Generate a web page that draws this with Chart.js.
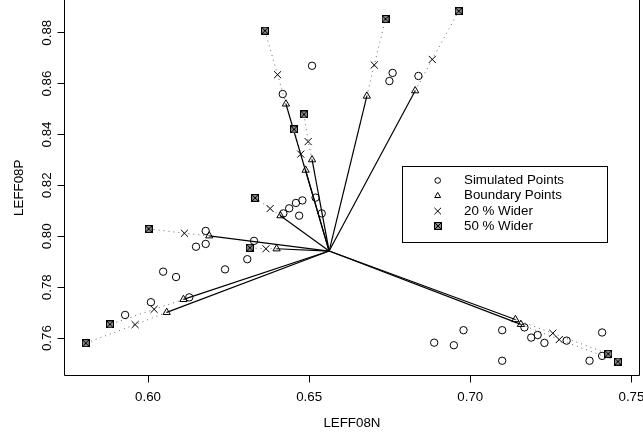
<!DOCTYPE html>
<html><head><meta charset="utf-8">
<script src="https://cdn.jsdelivr.net/npm/chart.js@4/dist/chart.umd.min.js"></script>
<style>html,body{margin:0;padding:0;background:#fff;}canvas{display:block;}</style>
</head><body>
<canvas id="c" width="643" height="441"></canvas>
<script>
// ---- data ----
const centerX = 0.6562;
const centerY = 0.7942;

const simX = [0.6509,0.6418,0.6759,0.6749,0.6839,0.6420,0.6438,0.6459,0.6479,0.6469,0.6520,0.6539,
              0.6179,0.6149,0.6179,0.6329,0.6308,0.6239,0.6047,0.6087,0.6128,0.6009,0.5929,
              0.6888,0.6949,0.6979,0.7099,0.7099,0.7168,0.7189,0.7209,0.7230,0.7299,0.7409,0.7370,0.7409];
const simY = [0.8670,0.8559,0.8642,0.8610,0.8630,0.8090,0.8110,0.8131,0.8141,0.8081,0.8152,0.8090,
              0.8021,0.7959,0.7970,0.7982,0.7910,0.7870,0.7861,0.7840,0.7760,0.7741,0.7691,
              0.7582,0.7572,0.7631,0.7631,0.7511,0.7642,0.7602,0.7612,0.7581,0.7590,0.7622,0.7511,0.7530];

const boundX = [0.6428,0.6509,0.6489,0.6679,0.6829,0.6411,0.6190,0.6399,0.6110,0.6058,0.7140,0.7157];
const boundY = [0.8520,0.8301,0.8260,0.8551,0.8572,0.8081,0.8002,0.7951,0.7752,0.7701,0.7673,0.7654];

const wide20X = [0.6402,0.6497,0.6474,0.6702,0.6882,0.6379,0.6113,0.6366,0.6019,0.5960,0.7256,0.7276];
const wide20Y = [0.8635,0.8372,0.8323,0.8673,0.8695,0.8109,0.8012,0.7951,0.7713,0.7653,0.7619,0.7594];

const wide50X = [0.6363,0.6484,0.6453,0.6737,0.6964,0.6332,0.6002,0.6316,0.5882,0.5807,0.7428,0.7458];
const wide50Y = [0.8808,0.8479,0.8420,0.8854,0.8885,0.8151,0.8029,0.7955,0.7654,0.7580,0.7538,0.7508];

const xTicks = [0.60,0.65,0.70,0.75];
const yTicks = [0.76,0.78,0.80,0.82,0.84,0.86,0.88];
const xTitle = 'LEFF08N';
const yTitle = 'LEFF08P';
const legendLabels = ['Simulated Points','Boundary Points','20 % Wider','50 % Wider'];

// ---- styling ----
const FAMILY = "'Liberation Sans', Arial, Helvetica, sans-serif";
const FS = 13.33;
Chart.defaults.font.family = FAMILY;
Chart.defaults.color = '#000';

function makeBoxX(){
  const s = 8;
  const c = document.createElement('canvas');
  c.width = s; c.height = s;
  const g = c.getContext('2d');
  g.fillStyle = '#888'; g.fillRect(0,0,s,s);
  g.strokeStyle = '#000'; g.lineWidth = 1;
  g.strokeRect(0.5,0.5,s-1,s-1);
  g.beginPath();
  g.moveTo(1,1); g.lineTo(s-1,s-1);
  g.moveTo(s-1,1); g.lineTo(1,s-1);
  g.stroke();
  return c;
}
const boxX = makeBoxX();

const pts = (xs, ys) => xs.map((x,i)=>({x:x, y:ys[i]}));

const datasets = [];
datasets.push({label:'50', data:pts(wide50X,wide50Y), pointStyle:boxX, pointRadius:4, showLine:false});
datasets.push({label:'20', data:pts(wide20X,wide20Y), pointStyle:'crossRot', pointRadius:5, borderColor:'#000', borderWidth:1, showLine:false});
datasets.push({label:'b', data:pts(boundX,boundY), pointStyle:'triangle', pointRadius:4.2, borderColor:'#000', backgroundColor:'rgba(0,0,0,0)', borderWidth:1, showLine:false});
datasets.push({label:'s', data:pts(simX,simY), pointStyle:'circle', pointRadius:3.7, borderColor:'#000', backgroundColor:'rgba(0,0,0,0)', borderWidth:1, showLine:false});
for (let i=0;i<boundX.length;i++){
  datasets.push({label:'solid'+i, data:[{x:centerX,y:centerY},{x:boundX[i],y:boundY[i]}],
    showLine:true, pointRadius:0, borderColor:'#000', borderWidth:1.2});
  datasets.push({label:'dot'+i, data:[{x:boundX[i],y:boundY[i]},{x:wide20X[i],y:wide20Y[i]},{x:wide50X[i],y:wide50Y[i]}],
    showLine:true, pointRadius:0, borderColor:'#666', borderWidth:1, borderDash:[1,4]});
}

const customDraw = {
  id:'customDraw',
  afterDraw(chart){
    const {ctx, chartArea:a, scales} = chart;
    ctx.save();
    ctx.strokeStyle = '#000'; ctx.lineWidth = 1;
    const L = Math.floor(a.left)+0.5, R = Math.floor(a.right)+0.5, B = Math.floor(a.bottom)+0.5, T = Math.floor(a.top)-3;
    ctx.beginPath();
    ctx.moveTo(L,T); ctx.lineTo(L,B); ctx.lineTo(R,B); ctx.lineTo(R,T);
    ctx.stroke();
    // rotated y tick labels
    ctx.fillStyle = '#000';
    ctx.font = FS + 'px ' + FAMILY;
    ctx.textAlign = 'center'; ctx.textBaseline = 'middle';
    const ys = scales.y;
    ys.ticks.forEach(t => {
      const py = ys.getPixelForValue(t.value);
      ctx.save(); ctx.translate(47, py); ctx.rotate(-Math.PI/2);
      ctx.fillText(t.value.toFixed(2), 0, 0);
      ctx.restore();
    });
    // legend
    const lx0 = 402.5, ly0 = 166.5, lx1 = 607.5, ly1 = 242.5;
    ctx.strokeRect(lx0, ly0, lx1-lx0, ly1-ly0);
    const rows = [180.5, 195.8, 211.1, 226.4];
    const mx = 437.7;
    ctx.textAlign = 'left';
    legendLabels.forEach((lab,i)=>{ ctx.fillText(lab, 464, rows[i]); });
    ctx.lineWidth = 1;
    ctx.beginPath(); ctx.arc(mx, rows[0], 2.8, 0, Math.PI*2); ctx.stroke();
    const r = 3.4, cy = rows[1];
    ctx.beginPath();
    ctx.moveTo(mx, cy - r);
    ctx.lineTo(mx + r*Math.sin(2*Math.PI/3), cy - r*Math.cos(2*Math.PI/3));
    ctx.lineTo(mx + r*Math.sin(4*Math.PI/3), cy - r*Math.cos(4*Math.PI/3));
    ctx.closePath(); ctx.stroke();
    const d = 3.3, cy2 = rows[2];
    ctx.beginPath();
    ctx.moveTo(mx-d, cy2-d); ctx.lineTo(mx+d, cy2+d);
    ctx.moveTo(mx+d, cy2-d); ctx.lineTo(mx-d, cy2+d);
    ctx.stroke();
    ctx.drawImage(boxX, Math.round(mx-4), Math.round(rows[3]-4));
    ctx.restore();
  }
};

new Chart(document.getElementById('c'), {
  type:'scatter',
  data:{datasets:datasets},
  plugins:[customDraw],
  options:{
    responsive:false, animation:false, devicePixelRatio:1, events:[],
    layout:{autoPadding:false, padding:{left:0, right:3.7, top:0, bottom:0}},
    plugins:{legend:{display:false}, tooltip:{enabled:false}},
    scales:{
      x:{
        type:'linear', min:0.57409, max:0.75244,
        afterBuildTicks: s => { s.ticks = xTicks.map(v=>({value:v})); },
        afterFit: s => { s.height = 65.5; s.paddingLeft = 0; s.paddingRight = 0; s.paddingTop = 0; s.paddingBottom = 0; },
        ticks:{autoSkip:false, maxRotation:0, minRotation:0, padding:7, color:'#000', font:{size:FS, family:FAMILY}, callback:v=>Number(v).toFixed(2)},
        grid:{display:true, drawOnChartArea:false, drawTicks:true, tickLength:7, tickColor:'#000', tickWidth:1},
        border:{display:false},
        title:{display:true, text:xTitle, color:'#000', font:{size:FS, family:FAMILY}, padding:{top:0, bottom:10}}
      },
      y:{
        type:'linear', min:0.74530, max:0.89285,
        afterBuildTicks: s => { s.ticks = yTicks.map(v=>({value:v})); },
        afterFit: s => { s.width = 64.5; s.paddingLeft = 0; s.paddingRight = 0; s.paddingTop = 0; s.paddingBottom = 0; },
        ticks:{display:false},
        grid:{display:true, drawOnChartArea:false, drawTicks:true, tickLength:7, tickColor:'#000', tickWidth:1},
        border:{display:false},
        title:{display:true, text:yTitle, color:'#000', font:{size:FS, family:FAMILY}, padding:{top:11, bottom:0}}
      }
    }
  }
});
</script>
</body></html>
